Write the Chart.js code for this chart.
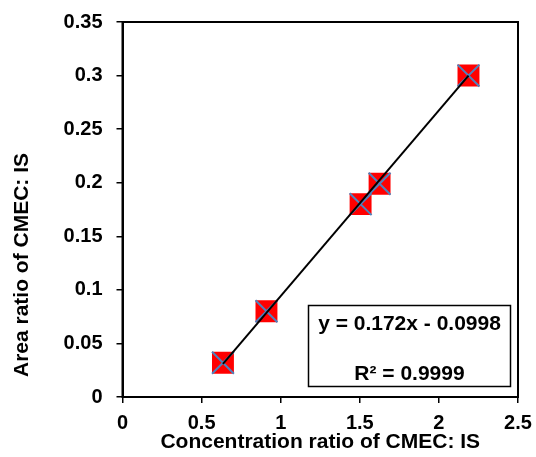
<!DOCTYPE html>
<html>
<head>
<meta charset="utf-8">
<script src="https://cdn.jsdelivr.net/npm/chart.js@4/dist/chart.umd.min.js"></script>
<style>
    html, body { margin: 0; padding: 0; background: #fff; }
    #wrap { width: 536px; height: 457px; position: relative; }
</style>
</head>
<body>
<div id="wrap"><canvas id="chart"></canvas></div>
<script>
// values
const concRatio = [0.635, 0.91, 1.505, 1.625, 2.187];
const areaRatio = [0.032, 0.08, 0.18, 0.199, 0.3];
const fitX = [0.635, 2.187];
const fitY = [0.031, 0.3];
const xTicks = [0, 0.5, 1, 1.5, 2, 2.5];
const yTicks = [0, 0.05, 0.1, 0.15, 0.2, 0.25, 0.3, 0.35];
const equationText = "y = 0.172x - 0.0998";
const r2Text = "R\u00b2 = 0.9999";
const xTitle = "Concentration ratio of CMEC: IS";
const yTitle = "Area ratio of CMEC: IS";

const FONT = "'Liberation Sans', Arial, sans-serif";

const toPoints = (xs, ys) => xs.map((x, i) => ({ x: x, y: ys[i] }));

// frame round the plot, y title and the fit label box
const extras = {
    id: "extras",
    afterDraw(chart) {
        const { ctx, chartArea: a } = chart;
        ctx.save();
        ctx.strokeStyle = "#000";
        ctx.lineWidth = 2;
        ctx.strokeRect(a.left, a.top, a.right - a.left, a.bottom - a.top);

        // fit label box
        ctx.lineWidth = 1.5;
        ctx.strokeRect(308.5, 305.5, 202, 81);
        ctx.fillStyle = "#000";
        ctx.font = "bold 21px " + FONT;
        ctx.textAlign = "center";
        ctx.textBaseline = "middle";
        ctx.fillText(equationText, 409.5, 324);
        ctx.fillText(r2Text, 409.5, 374);

        // y axis title
        ctx.translate(22, 265);
        ctx.rotate(-Math.PI / 2);
        ctx.fillText(yTitle, 0, 0);
        ctx.restore();
    }
};

const tickFmt = v => String(Number(v.toFixed(2)));

new Chart(document.getElementById("chart"), {
    type: "scatter",
    data: {
        datasets: [
            {
                type: "line",
                data: toPoints(fitX, fitY),
                borderColor: "#000",
                borderWidth: 2,
                pointRadius: 0,
                fill: false,
                order: 0
            },
            {
                data: toPoints(concRatio, areaRatio),
                pointStyle: "crossRot",
                pointRadius: 15.5,
                borderColor: "#4f81bd",
                borderWidth: 2,
                order: 1
            },
            {
                data: toPoints(concRatio, areaRatio),
                pointStyle: "rect",
                pointRadius: 15.5,
                backgroundColor: "#ff0000",
                borderWidth: 0,
                order: 2
            }
        ]
    },
    options: {
        responsive: true,
        maintainAspectRatio: false,
        animation: false,
        layout: { padding: { top: 22, right: 18, left: 0, bottom: 0 } },
        plugins: {
            legend: { display: false },
            tooltip: { enabled: false }
        },
        scales: {
            x: {
                type: "linear",
                min: 0,
                max: 2.5,
                afterBuildTicks: s => { s.ticks = xTicks.map(v => ({ value: v })); },
                afterFit: s => {
                    s.height = 60;
                    s.paddingLeft = 0;
                    s.paddingRight = 0;
                },
                grid: {
                    drawOnChartArea: false,
                    drawTicks: true,
                    tickLength: 6,
                    color: "#000",
                    lineWidth: 1.5
                },
                border: { display: true, color: "#000", width: 2 },
                ticks: {
                    padding: 8,
                    color: "#000",
                    font: { family: FONT, size: 20, weight: "bold" },
                    callback: tickFmt
                },
                title: {
                    display: true,
                    text: xTitle,
                    color: "#000",
                    padding: { top: 0, bottom: 2 },
                    font: { family: FONT, size: 21, weight: "bold" }
                }
            },
            y: {
                type: "linear",
                min: 0,
                max: 0.35,
                afterBuildTicks: s => { s.ticks = yTicks.map(v => ({ value: v })); },
                afterFit: s => {
                    s.width = 122.5;
                    s.paddingTop = 0;
                    s.paddingBottom = 0;
                },
                grid: {
                    drawOnChartArea: false,
                    drawTicks: true,
                    tickLength: 6,
                    color: "#000",
                    lineWidth: 1.5
                },
                border: { display: true, color: "#000", width: 2 },
                ticks: {
                    padding: 14,
                    color: "#000",
                    font: { family: FONT, size: 20, weight: "bold" },
                    callback: tickFmt
                }
            }
        }
    },
    plugins: [extras]
});
</script>
</body>
</html>
